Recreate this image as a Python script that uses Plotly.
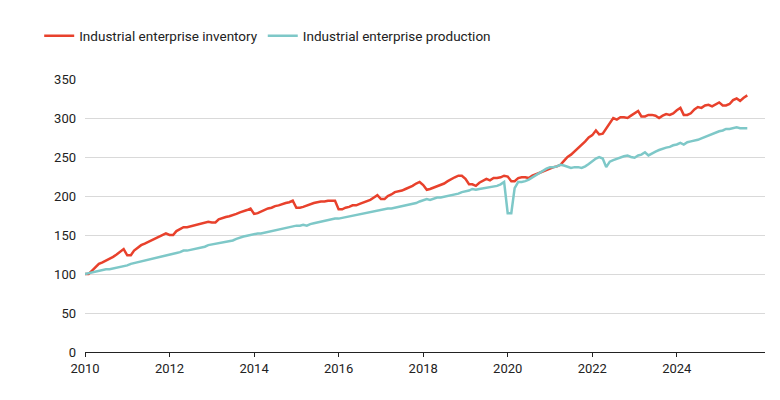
import plotly.graph_objects as go
import pandas as pd

inventory = [
100,100,104,109,113,115,117,119,122,125,128,132,
124,124,130,134,137,139,141,143,145,147,149,152,
150,150,155,158,160,160,161,162,163,164,166,167,
166,166,170,172,173,174,175,177,179,180,182,184,
177,178,180,182,184,185,187,188,190,191,192,194,
185,185,186,188,190,191,192,193,193,194,194,194,
183,183,185,186,188,188,190,192,193,195,198,201,
196,196,200,202,205,206,207,209,211,213,216,218,
214,208,209,211,213,214,216,219,222,224,226,226,
222,215,215,213,217,220,222,220,223,223,224,226,
225,219,219,223,224,224,223,226,228,230,232,234,
236,237,238,240,245,250,253,257,262,266,270,275,
278,284,279,280,287,294,300,298,301,301,300,303,
306,309,302,302,304,304,303,300,303,305,304,306,
310,313,304,304,306,311,314,313,316,317,315,318,
320,316,316,318,323,325,322,326,329]
production = [
100,101,102,103,104,105,106,106,107,108,109,110,
111,113,114,116,117,118,119,120,121,122,123,124,
125,126,127,128,130,130,131,132,133,134,135,137,
138,139,140,141,141,142,143,145,147,148,149,150,
151,152,152,153,154,155,156,157,158,159,160,161,
162,162,163,162,164,165,166,167,168,169,170,171,
171,172,172,173,174,175,176,177,178,179,180,181,
182,183,184,184,185,186,187,188,189,190,191,193,
195,196,195,197,198,198,199,200,201,202,203,205,
206,207,209,208,209,210,210,211,212,213,215,218,
178,178,210,218,218,219,221,224,227,230,233,235,
237,237,238,240,239,237,236,237,237,236,238,241,
245,248,250,248,237,244,246,248,249,251,252,250,
249,252,253,256,252,255,257,259,261,262,263,265,
266,268,266,269,270,271,272,274,276,278,280,282,
283,284,286,286,287,288,287,287,287]
year_ticks = ["2010", "2012", "2014", "2016", "2018", "2020", "2022", "2024"]
dates = pd.date_range("2010-01-01", periods=len(inventory), freq="MS")

fig = go.Figure()
fig.add_trace(go.Scatter(x=dates, y=inventory, mode="lines", name="Industrial enterprise inventory",
                         line=dict(color="#e8412c", width=2.5)))
fig.add_trace(go.Scatter(x=dates, y=production, mode="lines", name="Industrial enterprise production",
                         line=dict(color="#7ec8c8", width=2.5)))
fig.update_layout(
    width=780, height=400, plot_bgcolor="white", paper_bgcolor="white",
    margin=dict(l=77, r=23, t=71, b=56, autoexpand=False),
    font=dict(family="Roboto", size=13, color="#222"),
    legend=dict(orientation="h", x=0.04, y=0.93, xref="container", yref="container",
                xanchor="left", yanchor="middle",
                font=dict(size=13.5), itemwidth=30, traceorder="normal"),
    xaxis=dict(range=["2010-01-01", "2026-02-01"],
               tickvals=[pd.Timestamp(y + "-01-01") for y in year_ticks], ticktext=year_ticks,
               showgrid=False, showline=True, linecolor="#222",
               ticks="outside", ticklen=4, tickcolor="#222"),
    yaxis=dict(range=[0, 350], dtick=50, gridcolor="#d9d9d9", zeroline=False,
               ticks="", ticklabelstandoff=8),
)
fig.write_html("out.html")
